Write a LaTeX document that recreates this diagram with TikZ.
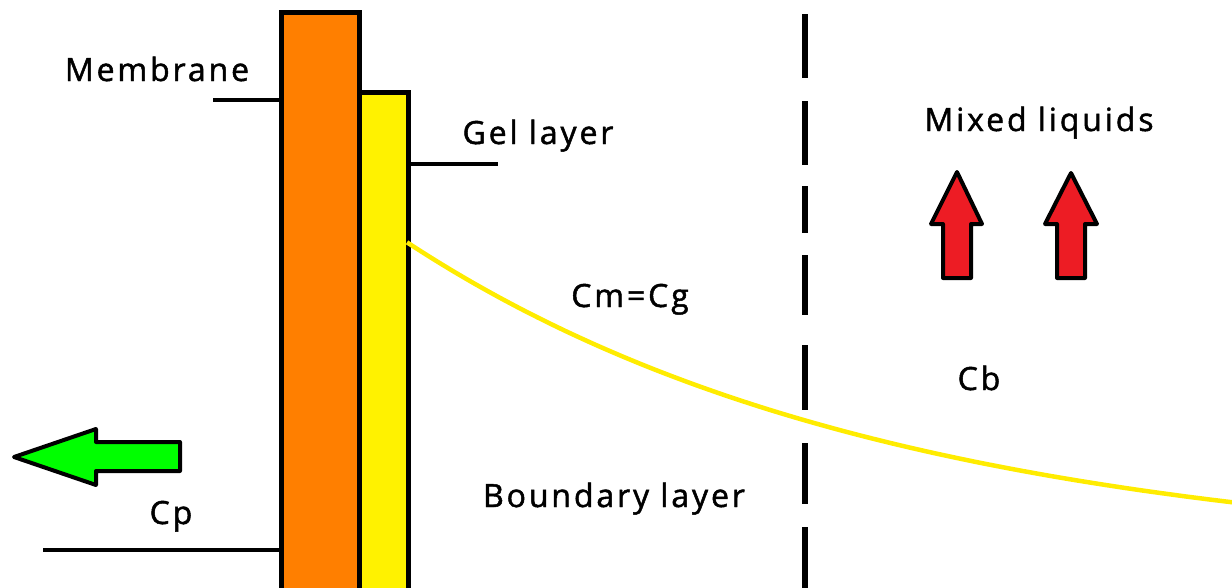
\documentclass[tikz,border=0pt]{standalone}
\usepackage{fontspec}
\newfontfamily\lblfont[LetterSpace=9,FakeBold=1.5]{Open Sans}
\definecolor{memorange}{RGB}{255,127,0}
\definecolor{gelyellow}{RGB}{255,242,0}
\definecolor{curveyellow}{RGB}{255,236,0}
\definecolor{arrowred}{RGB}{237,28,36}
\definecolor{arrowgreen}{RGB}{0,255,0}
\tikzset{
  lbl/.style={font=\lblfont\fontsize{32}{37}\selectfont, text=black, inner sep=0pt, anchor=base},
  layerbox/.style={draw=black, line width=5pt},
  leader/.style={draw=black, line width=4pt},
  fatarrow/.style={draw=black, line width=4pt, line join=round},
  divider/.style={draw=black, line width=5.5pt},
}
\begin{document}
\begin{tikzpicture}[x=1pt,y=-1pt]
\useasboundingbox (0,0) rectangle (1232,587);
\clip (0,0) rectangle (1232,587);
% layers
\node[layerbox, fill=memorange, minimum width=78pt, minimum height=590pt, inner sep=0pt, anchor=north west] (membrane) at (278.5,10) {};
\node[layerbox, fill=gelyellow, minimum width=49pt, minimum height=510pt, inner sep=0pt, anchor=north west] (gel) at (356.5,90) {};
% leader lines
\coordinate (memend) at (213,100);
\coordinate (gelend) at (498,164);
\coordinate (cpend) at (43,550);
\draw[leader] (membrane.west |- memend) -- (memend);
\draw[leader] (gel.east |- gelend) -- (gelend);
\draw[leader] (membrane.west |- cpend) -- (cpend);
% concentration curve
\draw[curveyellow, line width=4.5pt] plot[domain=407:1236, samples=90] (\x, {560-317*exp(-(\x-408)/484)});
% dashed divider
\foreach \a/\b in {14/78, 101/165, 186/233, 255/315, 345/410, 443/504, 527/590}
  \draw[divider] (805,\a) -- (805,\b);
% green arrow
\draw[fatarrow, fill=arrowgreen] (14,457) -- (96,429) -- (96,442) -- (180,442) -- (180,471) -- (96,471) -- (96,485) -- cycle;
% red arrows
\draw[fatarrow, fill=arrowred] (957,172) -- (982,224) -- (971,224) -- (971,278) -- (943,278) -- (943,224) -- (931,224) -- cycle;
\draw[fatarrow, fill=arrowred] (1071,173) -- (1097,224) -- (1085,224) -- (1085,278) -- (1057,278) -- (1057,224) -- (1045,224) -- cycle;
% labels
\node[lbl] (tmem) at (157,81) {Membrane};
\node[lbl] (tgel) at (538,144) {Gel layer};
\node[lbl] (tcm) at (630,307) {Cm=Cg};
\node[lbl] (tmix) at (1039,131) {Mixed liquids};
\node[lbl] (tcb) at (979,390) {Cb};
\node[lbl] (tbl) at (614,507) {Boundary layer};
\node[lbl] (tcp) at (171,524) {Cp};
\end{tikzpicture}
\end{document}
